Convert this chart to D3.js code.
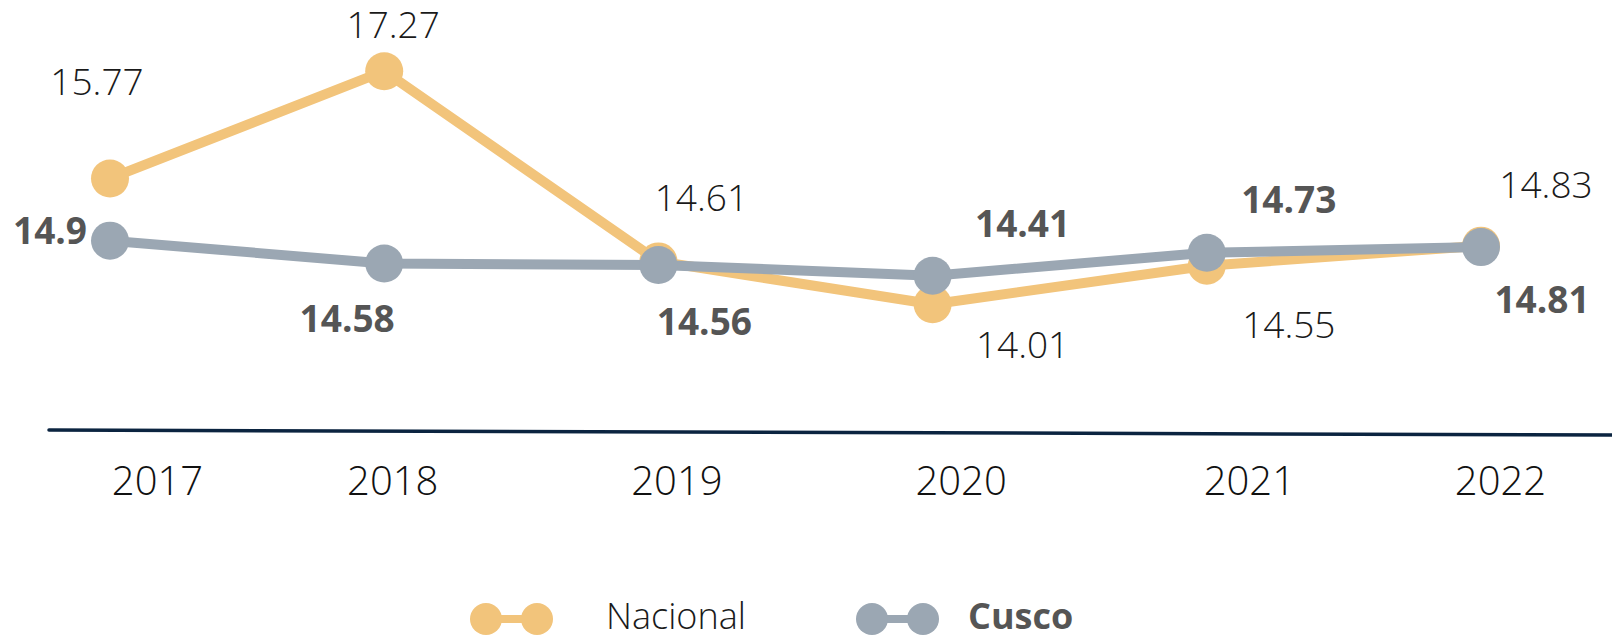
<!DOCTYPE html>
<html>
<head>
<meta charset="utf-8">
<script src="https://cdn.jsdelivr.net/npm/d3@7"></script>
<style>
  body { margin: 0; background: #fff; }
  text { font-family: "Open Sans", sans-serif; }
</style>
</head>
<body>
<div id="chart"></div>
<script>
var years = ["2017", "2018", "2019", "2020", "2021", "2022"];
var nacional = [15.77, 17.27, 14.61, 14.01, 14.55, 14.83];
var cusco = [14.9, 14.58, 14.56, 14.41, 14.73, 14.81];
var seriesNames = ["Nacional", "Cusco"];

// hand placed label offsets (px) relative to each point
var nacionalLabelShift = [[-13, -83], [9, -33], [43, -50], [90, 54], [82, 72], [65, -48]];
var cuscoLabelShift = [[-60, 3], [-37, 68], [46, 70], [90, -39], [82, -40], [61, 66]];
var yearLabelShift = [47, 8, 18, 28, 42, 19];

var width = 1612, height = 637;
var colNacional = "#f2c47b", colCusco = "#9ba7b3";

var svg = d3.select("#chart")
    .append("svg")
    .attr("width", width)
    .attr("height", height);

var x = d3.scalePoint()
    .domain(years)
    .range([110, 1481]);

var y = d3.scaleLinear()
    .domain([12, 18])
    .range([448, 19]);

// baseline (slightly tilted in the original)
svg.append("line")
    .attr("x1", 49).attr("y1", 430)
    .attr("x2", 1612).attr("y2", 435)
    .style("stroke", "#0b2440")
    .style("stroke-width", 3.5)
    .style("stroke-linecap", "round");

// year labels
var xAxis = svg.append("g")
    .attr("transform", "translate(0,460)")
    .call(d3.axisBottom(x).tickSize(0).tickPadding(0));
xAxis.select(".domain").remove();
xAxis.selectAll(".tick text")
    .attr("dx", function(d, i) { return yearLabelShift[i]; })
    .attr("dy", 0)
    .attr("y", 35)
    .style("font-family", "'Open Sans', sans-serif")
    .style("font-size", "40px")
    .style("font-weight", 300)
    .style("fill", "#111");

var line = d3.line()
    .x(function(d, i) { return x(years[i]); })
    .y(function(d) { return y(d); });

function drawSeries(values, color) {
    var g = svg.append("g");
    g.append("path")
        .datum(values)
        .attr("d", line)
        .style("fill", "none")
        .style("stroke", color)
        .style("stroke-width", 10)
        .style("stroke-linejoin", "round");
    g.selectAll("circle")
        .data(values)
        .enter()
        .append("circle")
        .attr("cx", function(d, i) { return x(years[i]); })
        .attr("cy", function(d) { return y(d); })
        .attr("r", 19)
        .style("fill", color);
    return g;
}

function drawLabels(values, shifts, bold) {
    svg.append("g")
        .selectAll("text")
        .data(values)
        .enter()
        .append("text")
        .attr("x", function(d, i) { return x(years[i]) + shifts[i][0]; })
        .attr("y", function(d, i) { return y(d) + shifts[i][1]; })
        .attr("text-anchor", "middle")
        .style("font-size", "37px")
        .style("font-weight", bold ? 700 : 300)
        .style("fill", bold ? "#555" : "#1a1a1a")
        .text(function(d) { return d; });
}

drawSeries(nacional, colNacional);
drawSeries(cusco, colCusco);
drawLabels(nacional, nacionalLabelShift, false);
drawLabels(cusco, cuscoLabelShift, true);

// legend
var legend = svg.append("g").attr("transform", "translate(0,619)");
var legendItems = [
    {name: seriesNames[0], color: colNacional, x: 486, bold: false},
    {name: seriesNames[1], color: colCusco, x: 872, bold: true}
];
legendItems.forEach(function(it) {
    legend.append("line")
        .attr("x1", it.x).attr("x2", it.x + 51)
        .attr("y1", 0).attr("y2", 0)
        .style("stroke", it.color)
        .style("stroke-width", 8);
    legend.selectAll(null)
        .data([0, 51])
        .enter()
        .append("circle")
        .attr("cx", function(d) { return it.x + d; })
        .attr("cy", 0)
        .attr("r", 16)
        .style("fill", it.color);
    legend.append("text")
        .attr("x", it.x + 120 - (it.bold ? 24 : 0))
        .attr("y", 10)
        .style("font-size", "36px")
        .style("font-weight", it.bold ? 700 : 300)
        .style("fill", it.bold ? "#555" : "#1a1a1a")
        .text(it.name);
});
</script>
</body>
</html>
